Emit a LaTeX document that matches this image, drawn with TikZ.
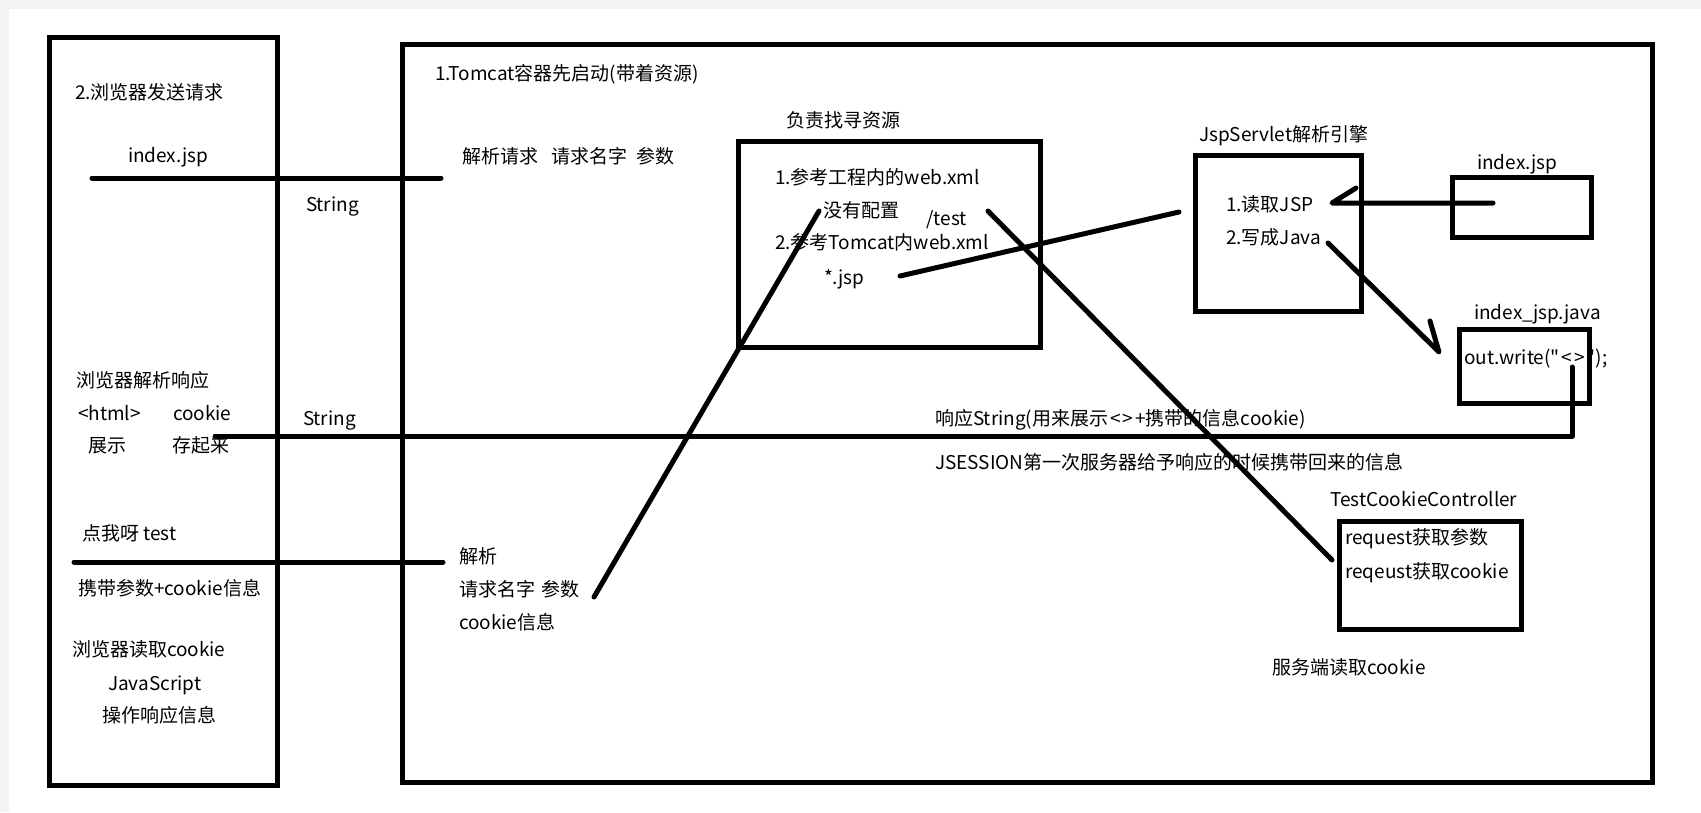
\documentclass[tikz,border=0pt]{standalone}
\usepackage{fontspec}
\setmainfont{Noto Sans CJK SC}[Ligatures=TeXOff]
\definecolor{edgegray}{HTML}{F2F3F5}
\begin{document}
\begin{tikzpicture}[x=1pt,y=-1pt,
  lbl/.style={anchor=west, inner sep=0pt, outer sep=0pt, font=\fontsize{19}{22}\selectfont, text height=16pt, text depth=1.6pt},
  box/.style={draw=black, line width=5pt, inner sep=0pt, outer sep=0pt},
  link/.style={draw=black, line width=5pt, line cap=round, line join=round}]
\useasboundingbox (0,0) rectangle (1701,812);
\fill[white] (0,0) rectangle (1701,812);
\fill[edgegray] (0,0) rectangle (1701,9);
\fill[edgegray] (0,0) rectangle (9,812);

% boxes
\node[box, minimum width=227.5pt, minimum height=748pt] (browser) at (163.25,411.5) {};
\node[box, minimum width=1250pt, minimum height=738pt] (tomcat) at (1027.5,413.5) {};
\node[box, minimum width=302.5pt, minimum height=206pt] (finder) at (889.25,244) {};
\node[box, minimum width=166.5pt, minimum height=156pt] (engine) at (1278.25,233.5) {};
\node[box, minimum width=138.3pt, minimum height=60pt] (jspfile) at (1521.85,207.5) {};
\node[box, minimum width=130pt, minimum height=74pt] (javafile) at (1524.5,366.5) {};
\node[box, minimum width=182pt, minimum height=107.5pt] (controller) at (1430,575.25) {};

% texts - browser side
\node[lbl] (t1) at (75,92) {2.浏览器发送请求};
\node[lbl] (t2) at (128,155) {index.jsp};
\node[lbl] (t3) at (306,204) {String};
\node[lbl] (t4) at (76,380) {浏览器解析响应};
\node[lbl] (t5) at (78,413) {<html>};
\node[lbl] (t6) at (173,413) {cookie};
\node[lbl] (t7) at (88,445) {展示};
\node[lbl] (t8) at (172,445) {存起来};
\node[lbl] (t9) at (303,418) {String};
\node[lbl] (t10) at (82,533) {点我呀 test};
\node[lbl] (t11) at (78,588) {携带参数+cookie信息};
\node[lbl] (t12) at (72,649) {浏览器读取cookie};
\node[lbl] (t13) at (108,683) {JavaScript};
\node[lbl] (t14) at (102,715) {操作响应信息};

% texts - server side
\node[lbl] (t15) at (435,73) {1.Tomcat容器先启动(带着资源)};
\node[lbl] (t16) at (786,120) {负责找寻资源};
\node[lbl] (t17) at (462,156) {解析请求\hspace{14pt}请求名字\hspace{9pt}参数};
\node[lbl] (t18) at (775,177) {1.参考工程内的web.xml};
\node[lbl] (t19) at (823,210) {没有配置};
\node[lbl] (t20) at (926,218) {/test};
\node[lbl] (t21) at (775,242) {2.参考Tomcat内web.xml};
\node[lbl] (t22) at (824,277) {*.jsp};
\node[lbl] (t23) at (1199,134) {JspServlet解析引擎};
\node[lbl] (t24) at (1226,204) {1.读取JSP};
\node[lbl] (t25) at (1226,237) {2.写成Java};
\node[lbl] (t26) at (1477,162) {index.jsp};
\node[lbl] (t27) at (1474,312) {index\_jsp.java};
\node[lbl] (t28) at (1464,357) {out.write("\hspace{2pt}<\hspace{2pt}>\hspace{2pt}");};
\node[lbl] (t29) at (935,418) {响应String(用来展示\hspace{2pt}<\hspace{2pt}>\hspace{2pt}+携带的信息cookie)};
\node[lbl] (t30) at (935,462) {JSESSION第一次服务器给予响应的时候携带回来的信息};
\node[lbl] (t31) at (1330,499) {TestCookieController};
\node[lbl] (t32) at (1345,537) {request获取参数};
\node[lbl] (t33) at (1345,571) {reqeust获取cookie};
\node[lbl] (t34) at (1272,667) {服务端读取cookie};
\node[lbl] (t35) at (459,556) {解析};
\node[lbl] (t36) at (459,589) {请求名字\hspace{7pt}参数};
\node[lbl] (t37) at (459,622) {cookie信息};

% connector end points
\coordinate (reqA) at (92,178);
\coordinate (reqB) at (441,178);
\coordinate (resA) at (1572,367);
\coordinate (resK) at (1572,436);
\coordinate (resB) at (215,436);
\coordinate (clkA) at (74,562);
\coordinate (clkB) at (443,562);
\coordinate (parA) at (594,597);
\coordinate (parB) at (819,211);
\coordinate (jspA) at (900,276);
\coordinate (jspB) at (1179,212);
\coordinate (tstA) at (988,211);
\coordinate (tstB) at (1332,560);
\coordinate (rdA) at (1493,203);
\coordinate (rdB) at (1332,203);
\coordinate (rdH) at (1356,188);
\coordinate (wrA) at (1328,243);
\coordinate (wrB) at (1439,352);
\coordinate (wrH) at (1430,321);

% connectors
\draw[link] (reqA) -- (reqB);
\draw[link] (resA) -- (resK) -- (resB);
\draw[link] (clkA) -- (clkB);
\draw[link] (parA) -- (parB);
\draw[link] (jspA) -- (jspB);
\draw[link] (tstA) -- (tstB);
\draw[link] (rdA) -- (rdB) -- (rdH);
\draw[link] (wrA) -- (wrB) -- (wrH);
\end{tikzpicture}
\end{document}
